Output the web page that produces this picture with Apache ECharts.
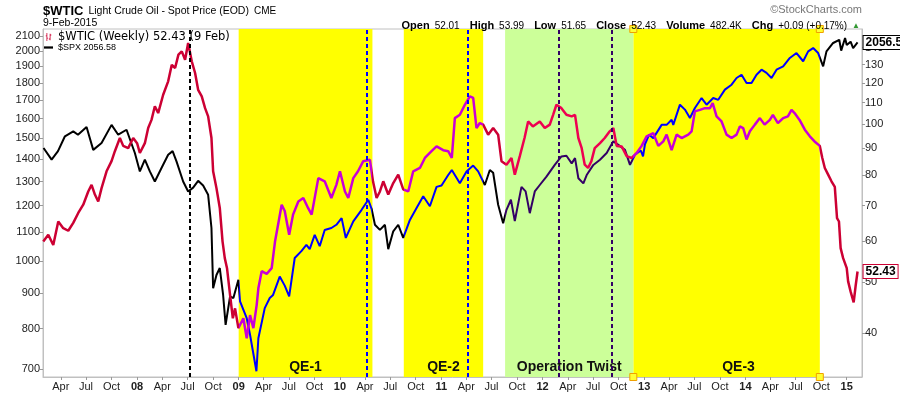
<!DOCTYPE html>
<html>
<head>
<meta charset="utf-8">
<script src="https://cdn.jsdelivr.net/npm/echarts@6/dist/echarts.min.js"></script>
<style>
  html, body { margin: 0; padding: 0; background: #fff; }
  #chart { width: 900px; height: 396px; }
</style>
</head>
<body>
<div id="chart"></div>
<script>
// S&P 500 weekly close
const spxData = [
  ['2007-01-29',1452],['2007-02-27',1397],['2007-03-22',1437],['2007-04-16',1509],['2007-05-16',1534],['2007-06-02',1517],
  ['2007-07-03',1556],['2007-07-27',1443],['2007-08-26',1476],['2007-10-01',1567],['2007-10-25',1517],['2007-11-24',1542],['2007-12-24',1428],
  ['2008-01-11',1344],['2008-01-29',1397],['2008-02-16',1344],['2008-03-05',1300],['2008-03-29',1359],['2008-04-22',1420],['2008-05-08',1437],
  ['2008-05-22',1389],['2008-06-15',1300],['2008-07-03',1258],['2008-07-21',1274],['2008-08-08',1303],['2008-08-26',1283],['2008-09-13',1244],
  ['2008-09-25',1115],['2008-10-01',914],['2008-10-13',955],['2008-10-25',977],['2008-11-06',894],['2008-11-15',810],['2008-12-01',890],
  ['2008-12-13',885],['2008-12-31',940],
  ['2009-01-06',875],['2009-01-30',828],['2009-02-11',784],['2009-03-06',695],['2009-03-13',775],['2009-04-05',856],['2009-04-23',885],
  ['2009-05-05',894],['2009-05-29',950],['2009-06-16',922],['2009-07-02',890],['2009-07-22',1010],['2009-08-15',1033],['2009-09-02',1055],
  ['2009-09-14',1040],['2009-10-02',1090],['2009-10-20',1050],['2009-11-07',1108],['2009-12-01',1115],['2009-12-19',1127],
  ['2010-01-07',1152],['2010-01-22',1079],['2010-02-18',1140],['2010-03-20',1184],['2010-04-13',1224],['2010-04-25',1188],['2010-05-07',1127],
  ['2010-05-25',1108],['2010-06-12',1127],['2010-06-24',1040],['2010-07-12',1103],['2010-07-30',1127],['2010-08-17',1079],['2010-09-10',1145],
  ['2010-10-04',1191],['2010-10-28',1238],['2010-11-21',1198],['2010-12-15',1277],
  ['2011-01-02',1283],['2011-01-26',1328],['2011-02-08',1350],['2011-03-09',1292],['2011-04-02',1344],['2011-04-26',1370],['2011-05-14',1344],
  ['2011-06-07',1285],['2011-06-25',1350],['2011-07-07',1338],['2011-07-25',1204],['2011-08-12',1133],['2011-08-24',1184],['2011-09-09',1224],
  ['2011-09-23',1141],['2011-10-17',1277],['2011-11-01',1258],['2011-11-16',1171],['2011-12-04',1258],['2011-12-22',1285],
  ['2012-01-15',1321],['2012-02-14',1373],['2012-03-09',1412],['2012-03-27',1415],['2012-04-15',1380],['2012-04-27',1404],['2012-05-09',1314],
  ['2012-05-27',1292],['2012-06-08',1328],['2012-07-02',1373],['2012-07-26',1397],['2012-08-19',1428],['2012-09-12',1484],['2012-09-30',1467],
  ['2012-10-24',1443],['2012-11-11',1373],['2012-11-29',1420],['2012-12-20',1440],['2012-12-28',1412],
  ['2013-01-04',1470],['2013-01-19',1517],['2013-02-03',1500],['2013-03-05',1567],['2013-03-23',1567],['2013-04-10',1594],['2013-04-16',1567],
  ['2013-05-10',1675],['2013-05-28',1648],['2013-06-15',1603],['2013-07-03',1657],['2013-07-27',1712],['2013-08-14',1675],['2013-09-07',1712],
  ['2013-09-25',1702],['2013-10-19',1760],['2013-11-12',1789],['2013-11-30',1829],['2013-12-18',1849],
  ['2014-01-05',1799],['2014-01-23',1799],['2014-02-10',1849],['2014-02-28',1880],['2014-03-18',1860],['2014-04-05',1829],['2014-04-23',1880],
  ['2014-05-17',1901],['2014-06-10',1954],['2014-07-04',1986],['2014-07-28',1933],['2014-08-15',1997],['2014-09-02',2019],['2014-09-20',1986],
  ['2014-10-08',1901],['2014-10-20',1997],['2014-11-13',2053],['2014-12-05',2075],['2014-12-12',2002],['2014-12-26',2087],
  ['2015-01-01',2040],['2015-01-15',2062],['2015-01-24',2019],['2015-02-09',2056.58]
];

// WTIC weekly
const wticData = [
  ['2007-01-28',59.8],['2007-02-15',61.6],['2007-03-05',58.9],['2007-03-23',65.3],['2007-04-10',63.4],['2007-04-28',62.7],['2007-05-16',64.9],
  ['2007-06-03',67.8],['2007-06-21',70.3],['2007-07-09',74.5],['2007-07-21',76.7],['2007-08-02',73.5],['2007-08-14',71.3],['2007-08-26',75.6],
  ['2007-09-13',81.4],['2007-10-01',85.1],['2007-10-13',88.9],['2007-10-31',94.2],['2007-11-12',91],['2007-11-30',90.1],['2007-12-18',94.2],
  ['2008-01-01',92.1],['2008-01-11',88.2],['2008-01-29',92.1],['2008-02-10',98.4],['2008-02-22',102],['2008-03-05',108.3],['2008-03-17',105.1],
  ['2008-04-04',113.9],['2008-04-22',120.8],['2008-05-05',129.9],['2008-05-17',128.1],['2008-05-29',135.8],['2008-06-10',137.8],['2008-06-22',132.8],
  ['2008-07-03',142.9],['2008-07-16',131.9],['2008-07-28',125.3],['2008-08-08',116.4],['2008-08-21',113.1],['2008-09-02',107.4],['2008-09-13',103.6],
  ['2008-09-25',94.2],['2008-10-01',81.4],['2008-10-13',75.6],['2008-10-25',69.3],['2008-11-04',59.8],['2008-11-12',55.6],['2008-11-20',53.2],
  ['2008-12-01',47.3],['2008-12-11',42.7],['2008-12-19',44.6],['2008-12-31',40.9],
  ['2009-01-18',42.7],['2009-01-30',39.1],['2009-02-11',43.3],['2009-02-23',40.9],['2009-03-07',45.3],['2009-03-13',48.7],['2009-03-25',52.5],
  ['2009-04-12',51.9],['2009-04-30',53.2],['2009-05-12',59.8],['2009-05-23',64.4],['2009-06-05',70.3],['2009-06-16',68.4],['2009-07-02',61.6],
  ['2009-07-16',67.3],['2009-08-04',71.3],['2009-08-22',72.4],['2009-09-08',69.3],['2009-09-21',67.3],['2009-10-15',79.0],['2009-11-07',77.9],
  ['2009-12-01',72.4],['2009-12-19',76.7],
  ['2010-01-01',81.4],['2010-01-19',74.5],['2010-01-31',72.4],['2010-02-18',79.0],['2010-03-07',81.4],['2010-03-26',85.1],['2010-04-19',85.6],
  ['2010-04-30',77.9],['2010-05-13',72.4],['2010-05-25',74.5],['2010-06-06',77.9],['2010-06-24',73.5],['2010-07-12',77.3],['2010-07-30',80.2],
  ['2010-08-17',75.2],['2010-09-04',74.5],['2010-09-22',81.4],['2010-10-16',82.6],['2010-11-03',86.3],['2010-11-27',88.9],['2010-12-15',90.8],
  ['2011-01-08',89.3],['2011-01-26',88.9],['2011-02-08',86.3],['2011-02-19',102.8],['2011-03-09',104.3],['2011-03-27',109.0],['2011-04-14',113.1],
  ['2011-04-26',112.3],['2011-05-08',98.4],['2011-05-20',100.6],['2011-06-01',99.9],['2011-06-19',95.6],['2011-07-07',98.4],['2011-07-25',95.6],
  ['2011-08-06',85.1],['2011-08-24',83.8],['2011-09-11',86.3],['2011-09-23',80.2],['2011-10-11',87.0],['2011-10-28',94.2],['2011-11-10',101.3],
  ['2011-11-27',99.1],['2011-12-22',101.3],
  ['2012-01-09',98.4],['2012-01-27',99.9],['2012-02-08',104.3],['2012-02-20',109.0],['2012-03-09',107.4],['2012-03-27',104.3],['2012-04-15',103.6],
  ['2012-04-27',104.3],['2012-05-09',94.2],['2012-05-21',90.1],['2012-06-01',83.8],['2012-06-13',82.6],['2012-06-25',85.1],['2012-07-07',90.1],
  ['2012-07-26',92.1],['2012-08-12',94.2],['2012-08-30',97.0],['2012-09-12',98.4],['2012-09-24',91.0],['2012-10-12',90.8],['2012-10-30',87.0],
  ['2012-11-17',86.3],['2012-12-05',88.2],['2012-12-23',91.0],
  ['2013-01-10',94.9],['2013-01-16',95.6],['2013-02-03',96.2],['2013-02-21',91.0],['2013-03-11',92.8],['2013-03-23',95.6],['2013-04-10',89.3],
  ['2013-04-28',95.6],['2013-05-16',94.2],['2013-06-09',95.6],['2013-06-21',97.0],['2013-07-03',105.9],['2013-07-21',106.6],['2013-08-08',107.4],
  ['2013-08-26',107.4],['2013-09-05',109.8],['2013-09-19',103.6],['2013-10-07',101.3],['2013-10-25',95.6],['2013-11-12',94.2],['2013-11-30',95.6],
  ['2013-12-12',99.1],['2013-12-24',98.4],
  ['2014-01-05',93.6],['2014-01-17',97.0],['2014-02-04',99.9],['2014-02-22',102.8],['2014-03-11',99.9],['2014-03-30',102],['2014-04-10',104.3],
  ['2014-04-28',100.6],['2014-05-17',102.8],['2014-06-03',103.6],['2014-06-16',106.6],['2014-06-27',105.1],['2014-07-15',102],['2014-08-03',97.7],
  ['2014-08-21',94.9],['2014-09-07',92.8],['2014-09-26',91.0],['2014-10-05',86.3],['2014-10-14',82.6],['2014-10-26',80.2],['2014-11-07',77.9],
  ['2014-11-19',76.0],['2014-11-27',66.3],['2014-12-04',65.3],['2014-12-10',58.1],['2014-12-19',55.6],
  ['2015-01-01',53.2],['2015-01-06',50.2],['2015-01-15',48.0],['2015-01-26',45.8],['2015-02-02',49.2],['2015-02-09',52.43]
];

// shaded periods [start, end, label]
const qeRegions = [
  ['2009-01-01', '2010-04-28', 'QE-1'],
  ['2010-08-19', '2011-06-01', 'QE-2'],
  ['2012-11-23', '2014-09-26', 'QE-3']
];
const twistRegion = ['2011-08-19', '2012-11-23', 'Operation Twist'];

// dashed event lines
const eventDates = ['2008-07-08', '2010-04-07', '2011-04-06', '2012-02-29', '2012-09-05'];

const xTicks = [
  '2007-04-01','2007-07-01','2007-10-01','2008-01-01','2008-04-01','2008-07-01','2008-10-01',
  '2009-01-01','2009-04-01','2009-07-01','2009-10-01','2010-01-01','2010-04-01','2010-07-01','2010-10-01',
  '2011-01-01','2011-04-01','2011-07-01','2011-10-01','2012-01-01','2012-04-01','2012-07-01','2012-10-01',
  '2013-01-01','2013-04-01','2013-07-01','2013-10-01','2014-01-01','2014-04-01','2014-07-01','2014-10-01','2015-01-01'
];
const leftTicks = [700, 800, 900, 1000, 1100, 1200, 1300, 1400, 1500, 1600, 1700, 1800, 1900, 2000, 2100];
const rightTicks = [40, 50, 60, 70, 80, 90, 100, 110, 120, 130, 140];

const YELLOW = '#ffff00', GREEN = '#ccff99';
// dates -> ms timestamps (x is a plain value axis)
const t = s => { const p = s.split('-').map(Number); return Date.UTC(p[0], p[1] - 1, p[2]); };
const toXY = arr => arr.map(d => [t(d[0]), d[1]]);

function inside(date) {
  const v = t(date);
  for (const r of qeRegions) if (v >= t(r[0]) && v <= t(r[1])) return 'y';
  if (v >= t(twistRegion[0]) && v <= t(twistRegion[1])) return 'g';
  return 'w';
}
// colours over shading behave like StockCharts' inverted overlay
const lineColors = {
  spx: { w: '#000000', y: '#0000ff', g: '#330066' },
  wtic: { w: '#cc0033', y: '#c800d8', g: '#ee0050' }
};
function pieces(key) {
  const out = qeRegions.map(r => ({ gte: t(r[0]), lt: t(r[1]), color: lineColors[key].y }));
  out.push({ gte: t(twistRegion[0]), lt: t(twistRegion[1]), color: lineColors[key].g });
  return out;
}

const axisFont = { fontFamily: 'Arial, Liberation Sans', fontSize: 11, color: '#222' };
const monthNames = ['Jan','Feb','Mar','Apr','May','Jun','Jul','Aug','Sep','Oct','Nov','Dec'];

const chart = echarts.init(document.getElementById('chart'), null, { renderer: 'canvas' });

const areaData = qeRegions.map((r, i) => [
  { xAxis: t(r[0]), name: r[2], itemStyle: { color: YELLOW },
    label: { offset: i === 2 ? [12, 0] : [0, 0] } },
  { xAxis: t(r[1]) }
]);
areaData.push([{ xAxis: t(twistRegion[0]), name: twistRegion[2], itemStyle: { color: GREEN } }, { xAxis: t(twistRegion[1]) }]);

chart.setOption({
  animation: false,
  backgroundColor: '#fff',
  title: [
    { left: 43, top: 2, padding: 0, text: '{a|$WTIC} {b|Light Crude Oil - Spot Price (EOD)} {c|CME}',
      textStyle: { fontWeight: 'normal', rich: {
        a: { fontFamily: 'Arial', fontSize: 13, fontWeight: 'bold', color: '#000' },
        b: { fontFamily: 'Arial', fontSize: 10.5, fontWeight: 'normal', color: '#000' },
        c: { fontFamily: 'Arial', fontSize: 10, fontWeight: 'normal', color: '#000' } } } },
    { left: 43, top: 18, padding: 0, text: '9-Feb-2015',
      textStyle: { fontFamily: 'Arial', fontSize: 10.5, fontWeight: 'normal', color: '#000' } },
    { right: 40, top: 17, padding: 0,
      text: '{b|Open} {n|52.01}  {b|High} {n|53.99}  {b|Low} {n|51.65}  {b|Close} {n|52.43}  {b|Volume} {n|482.4K}  {b|Chg} {n|+0.09 (+0.17%)} {g|▲}',
      textStyle: { fontWeight: 'normal', rich: {
        b: { fontFamily: 'Arial', fontSize: 11, fontWeight: 'bold', color: '#000' },
        n: { fontFamily: 'Arial', fontSize: 10, fontWeight: 'normal', color: '#000' },
        g: { fontFamily: 'Arial', fontSize: 8, fontWeight: 'normal', color: '#339933' } } } },
    { right: 38, top: 4, padding: 0, text: '©StockCharts.com',
      textStyle: { fontFamily: 'Arial', fontSize: 11, fontWeight: 'normal', color: '#777' } }
  ],
  legend: {
    left: 44, top: 31, padding: 0, orient: 'vertical', itemGap: 0, itemWidth: 9, itemHeight: 8,
    selectedMode: false,
    data: [
      { name: '$WTIC (Weekly) 52.43 (9 Feb)',
        icon: 'path://M1,0h1v10h-1zM0,3h1v1h-1zM2,6h1v1h-1zM5,1h1v8h-1zM4,7h1v1h-1zM6,2h1v1h-1z',
        itemStyle: { color: '#cc0033' },
        textStyle: { fontFamily: 'DejaVu Sans', fontSize: 11.5, color: '#000' } },
      { name: '$SPX 2056.58', icon: 'path://M0,0h8v2h-8z',
        itemStyle: { color: '#000' },
        textStyle: { fontFamily: 'Arial', fontSize: 9, color: '#000' } }
    ]
  },
  grid: { left: 43, right: 38, top: 29, bottom: 19, show: true, borderColor: '#c0c0c0', borderWidth: 1 },
  xAxis: {
    type: 'value',
    min: t('2007-01-27'), max: t('2015-02-25'),
    axisLine: { lineStyle: { color: '#c0c0c0' } },
    axisTick: { show: true, length: 3, lineStyle: { color: '#999' }, customValues: xTicks.map(t) },
    splitLine: { show: false },
    axisLabel: {
      ...axisFont, margin: 4, customValues: xTicks.map(t),
      formatter: v => {
        const d = new Date(v);
        const m = d.getUTCMonth();
        if (m === 0) return '{yr|' + String(d.getUTCFullYear()).slice(2) + '}';
        return monthNames[m];
      },
      rich: { yr: { fontFamily: 'Arial', fontSize: 11, fontWeight: 'bold', color: '#222' } }
    }
  },
  yAxis: [
    {
      type: 'log', logBase: 10, min: 682, max: 2150, position: 'left',
      axisLine: { show: true, lineStyle: { color: '#c0c0c0' } },
      axisTick: { show: true, length: 3, lineStyle: { color: '#999' }, customValues: leftTicks },
      splitLine: { show: false },
      minorTick: { show: false },
      axisLabel: { ...axisFont, margin: 3, customValues: leftTicks, formatter: v => String(Math.round(v)) }
    },
    {
      type: 'log', logBase: 10, min: 33, max: 152, position: 'right',
      axisLine: { show: true, lineStyle: { color: '#c0c0c0' } },
      axisTick: { show: true, length: 3, lineStyle: { color: '#999' }, customValues: rightTicks },
      splitLine: { show: false },
      minorTick: { show: false },
      axisLabel: { ...axisFont, margin: 3, customValues: rightTicks, formatter: v => String(Math.round(v)) }
    }
  ],
  visualMap: [
    { type: 'piecewise', show: false, seriesIndex: [0], dimension: 0, pieces: pieces('spx'), outOfRange: { color: lineColors.spx.w } },
    { type: 'piecewise', show: false, seriesIndex: [1], dimension: 0, pieces: pieces('wtic'), outOfRange: { color: lineColors.wtic.w } }
  ],
  series: [
    {
      name: '$SPX 2056.58', type: 'line', yAxisIndex: 0, data: toXY(spxData),
      showSymbol: false, symbol: 'none',
      lineStyle: { width: 2 }, itemStyle: { color: '#000' },
      endLabel: {
        show: true, distance: 6,
        formatter: p => p.value[1].toFixed(2),
        fontFamily: 'Arial', fontSize: 12, fontWeight: 'bold', color: '#000',
        backgroundColor: '#fff', borderColor: '#000', borderWidth: 1, padding: [1, 2, 0, 2]
      },
      markArea: {
        silent: true,
        label: { show: true, position: 'insideBottom', distance: 3, color: '#111',
          fontFamily: 'Arial', fontSize: 14, fontWeight: 'bold' },
        data: areaData
      },
      markLine: {
        silent: true, symbol: 'none', label: { show: false },
        lineStyle: { type: [4, 3], width: 2 },
        data: eventDates.map(d => ({ xAxis: t(d), lineStyle: { color: lineColors.spx[inside(d)], type: [4, 3], width: 2 } }))
      }
    },
    {
      name: '$WTIC (Weekly) 52.43 (9 Feb)', type: 'line', yAxisIndex: 1, data: toXY(wticData),
      showSymbol: false, symbol: 'none',
      lineStyle: { width: 2.5 }, itemStyle: { color: '#cc0033' },
      endLabel: {
        show: true, distance: 6,
        formatter: p => p.value[1].toFixed(2),
        fontFamily: 'Arial', fontSize: 12, fontWeight: 'bold', color: '#000',
        backgroundColor: '#fff', borderColor: '#cc0033', borderWidth: 1, padding: [1, 2, 0, 2]
      },
      markPoint: {
        silent: true, symbol: 'rect', symbolSize: 7,
        itemStyle: { color: '#ffff33', borderColor: '#f0a000', borderWidth: 1 },
        label: { show: false },
        data: [
          { coord: [t(qeRegions[2][0]), 152] }, { coord: [t(qeRegions[2][1]), 152] },
          { coord: [t(qeRegions[2][0]), 33] }, { coord: [t(qeRegions[2][1]), 33] }
        ]
      }
    }
  ]
});
</script>
</body>
</html>
